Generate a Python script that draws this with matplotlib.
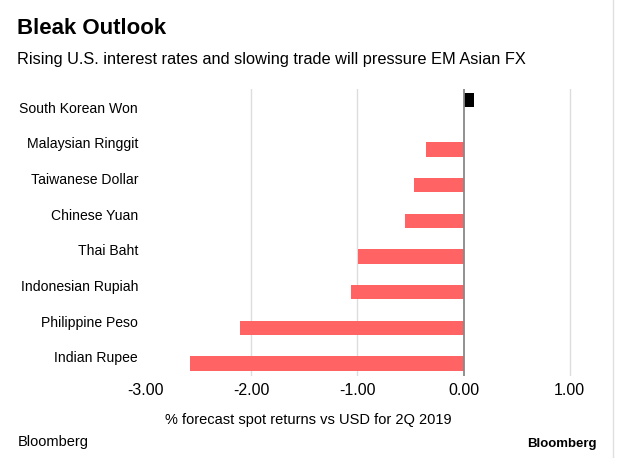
import matplotlib
matplotlib.use('Agg')
import matplotlib.pyplot as plt

plt.rcParams['font.family'] = ['Liberation Sans', 'DejaVu Sans']

currencies = ['South Korean Won', 'Malaysian Ringgit', 'Taiwanese Dollar', 'Chinese Yuan',
              'Thai Baht', 'Indonesian Rupiah', 'Philippine Peso', 'Indian Rupee']
returns = [0.10, -0.35, -0.47, -0.55, -0.99, -1.06, -2.11, -2.58]
xticks = [-3.0, -2.0, -1.0, 0.0, 1.0]

red = '#ff6363'

fig = plt.figure(figsize=(6.4, 4.58), dpi=100)
ax = fig.add_axes([0.2266, 0.179, 0.672, 0.627])

ypos = list(range(len(currencies)))[::-1]
# two series like the original: gains sit above the row centre, losses below
off = 0.19
pos_y = [y + off for y, v in zip(ypos, returns) if v > 0]
pos_v = [v for v in returns if v > 0]
neg_y = [y - off for y, v in zip(ypos, returns) if v <= 0]
neg_v = [v for v in returns if v <= 0]
ax.barh(pos_y, pos_v, height=0.4, color='#000000', zorder=3)
ax.barh(neg_y, neg_v, height=0.4, color=red, zorder=3)

# grid lines, skipping the left edge
for t in xticks[1:]:
    if t == 0:
        ax.axvline(t, color='#888888', lw=1.3, zorder=4)
    else:
        ax.axvline(t, color='#dddddd', lw=1.0, zorder=1)

ax.set_xlim(-3.0, 1.05)
ax.set_ylim(-0.54, 7.51)
ax.set_xticks(xticks)
ax.set_xticklabels(['%.2f' % t for t in xticks], fontsize=11.5)
ax.set_yticks(ypos)
ax.set_yticklabels(currencies, fontsize=10.1)
ax.tick_params(axis='both', length=0, pad=5)
for s in ax.spines.values():
    s.set_visible(False)

fig.text(308 / 640, 0.074, '% forecast spot returns vs USD for 2Q 2019', fontsize=10.5,
         ha='center', va='baseline')

fig.text(0.027, 0.925, 'Bleak Outlook', fontsize=16, fontweight='bold', ha='left', va='baseline')
fig.text(0.027, 0.86, 'Rising U.S. interest rates and slowing trade will pressure EM Asian FX',
         fontsize=11.8, ha='left', va='baseline')
fig.text(0.027, 0.026, 'Bloomberg', fontsize=10.5, ha='left', va='baseline')
fig.text(0.932, 0.024, 'Bloomberg', fontsize=9.5, fontweight='bold', ha='right', va='baseline')

# thin frame line on the right edge
fig.add_artist(plt.Line2D([0.958, 0.958], [0.0, 1.0], color='#e0e0e0', lw=1.0, transform=fig.transFigure))

fig.savefig('out.png', dpi=100)
